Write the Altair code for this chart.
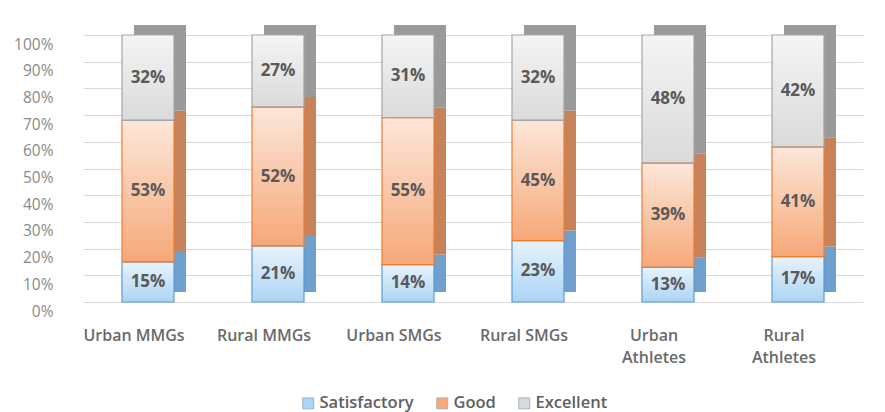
import altair as alt
import pandas as pd

groups = ["Urban MMGs", "Rural MMGs", "Urban SMGs", "Rural SMGs", "Urban Athletes", "Rural Athletes"]
levels = ["Satisfactory", "Good", "Excellent"]
satisfactory = [15, 21, 14, 23, 13, 17]
good = [53, 52, 55, 45, 39, 41]
excellent = [32, 27, 31, 32, 48, 42]

front_colors = ["#acd4f5", "#f6a878", "#dadada"]
side_colors = ["#6e9fcd", "#c8825a", "#9a9a9a"]
edge_colors = ["#5b9bd5", "#ed7d31", "#a5a5a5"]

rows = []
for i, g in enumerate(groups):
    for j, (lvl, vals) in enumerate(zip(levels, [satisfactory, good, excellent])):
        rows.append({"group": g, "level": lvl, "order": j, "value": vals[i]})
df = pd.DataFrame(rows)

FONT = "Open Sans"

base = alt.Chart(df).transform_stack(
    stack="value", groupby=["group"], as_=["y0", "y1"],
    sort=[alt.SortField("order", order="ascending")]
)

x_enc = alt.X(
    "group:N", sort=groups,
    axis=alt.Axis(
        title=None, domain=False, ticks=False, labelAngle=0, labelPadding=25,
        labelOffset=-14, labelFont=FONT, labelFontWeight=600, labelFontSize=16,
        labelColor="#6a6a6a", labelLineHeight=22,
        labelExpr="indexof(datum.label, 'Athletes') >= 0 ? split(datum.label, ' ') : datum.label",
    ),
)
y_axis = alt.Axis(
    title=None, domain=False, ticks=False, values=list(range(0, 101, 10)),
    labelExpr="datum.value + '%'", labelPadding=30, labelOffset=9, labelOverlap=False,
    labelFont=FONT, labelFontSize=15.5, labelColor="#8a8a8a", gridColor="#d9d9d9",
)


def y_enc(field):
    return alt.Y(field, scale=alt.Scale(domain=[0, 100]), axis=y_axis)


back = base.mark_bar(size=52, xOffset=12, x2Offset=12, yOffset=-10, y2Offset=-10).encode(
    x=x_enc, y=y_enc("y0:Q"), y2="y1:Q",
    color=alt.Color("level:N", sort=levels,
                    scale=alt.Scale(domain=levels, range=side_colors), legend=None),
)

front = base.mark_bar(size=52).encode(
    x=x_enc, y=y_enc("y0:Q"), y2="y1:Q",
    color=alt.Color(
        "level:N", sort=levels, scale=alt.Scale(domain=levels, range=front_colors),
        legend=alt.Legend(
            orient="none", legendX=217, legendY=360, direction="horizontal", title=None,
            symbolType="square", symbolSize=120, labelFont=FONT, labelFontSize=16.5,
            labelFontWeight=600, labelColor="#606060", columnPadding=20, labelOffset=3,
            symbolStrokeWidth=1, symbolStrokeColor="#9fb4c8",
        ),
    ),
)

grad = alt.Gradient(
    gradient="linear",
    stops=[alt.GradientStop(color="rgba(255,255,255,0.72)", offset=0),
           alt.GradientStop(color="rgba(255,255,255,0)", offset=1)],
    x1=0, x2=0, y1=0, y2=1,
)
overlay = base.mark_bar(size=52, fill=grad, strokeWidth=1.2).encode(
    x=x_enc, y=y_enc("y0:Q"), y2="y1:Q",
    stroke=alt.Stroke("level:N", sort=levels,
                      scale=alt.Scale(domain=levels, range=edge_colors), legend=None),
)

text = base.transform_calculate(
    mid="(datum.y0 + datum.y1) / 2", label="datum.value + '%'"
).mark_text(font=FONT, fontWeight="bold", fontSize=17, color="#595959").encode(
    x=x_enc, y=y_enc("mid:Q"), text="label:N"
)

chart = alt.layer(back, front, overlay, text).resolve_scale(
    color="independent", stroke="independent"
).properties(
    width=780, height=267,
    padding={"left": 75, "top": 27, "right": 14, "bottom": 110},
    autosize=alt.AutoSizeParams(type="none"),
).configure_view(stroke=None)

chart.save("out.html", embed_options={"renderer": "svg", "actions": False})
